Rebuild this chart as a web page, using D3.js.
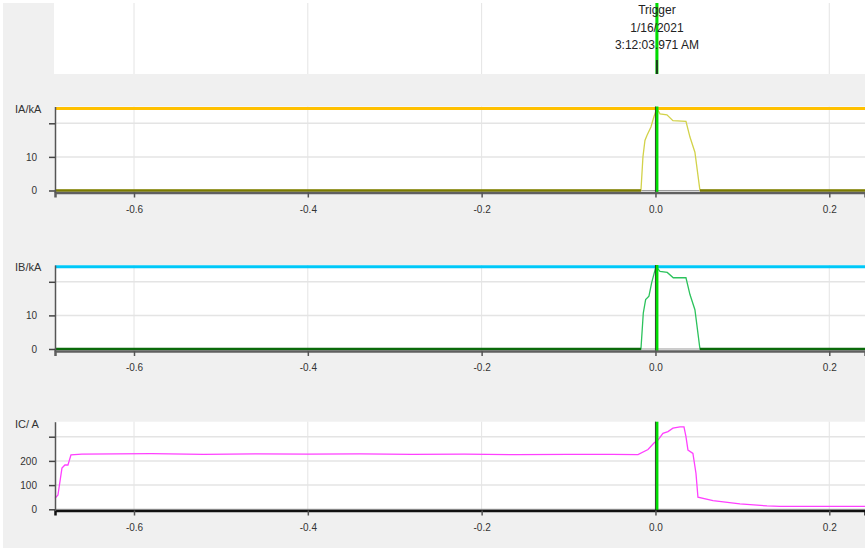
<!DOCTYPE html>
<html>
<head>
<meta charset="utf-8">
<script src="https://cdn.jsdelivr.net/npm/d3@7"></script>
<style>
    html, body { margin: 0; padding: 0; background: #fff; }
    svg { display: block; font-family: "Liberation Sans", Arial, sans-serif; }
</style>
</head>
<body>
<div id="chart"></div>
<script>
// ---- Data ----
const xTicks = [-0.6, -0.4, -0.2, 0.0, 0.2];
const triggerTime = 0.0017;
const triggerText = ["Trigger", "1/16/2021", "3:12:03.971 AM"];

// [time (s), value]
const iaCurve = [
    [-0.691, 0], [-0.0167, 0], [-0.0144, 10], [-0.0121, 14.9], [-0.0098, 16.4],
    [-0.0052, 18.9], [-0.0017, 22], [0.0017, 24.4], [0.0052, 22.8], [0.0132, 22.5],
    [0.0201, 20.8], [0.0351, 20.6], [0.0397, 15.9], [0.0454, 11.4], [0.0512, 0],
    [0.2411, 0]
];
const ibCurve = [
    [-0.691, 0], [-0.0167, 0], [-0.014, 10.7], [-0.0113, 14.7], [-0.0075, 15.7],
    [-0.0044, 19.7], [0.0006, 24.6], [0.0052, 23.1], [0.0136, 22.8], [0.0205, 21.2],
    [0.0351, 21.2], [0.0397, 16.2], [0.0454, 11.7], [0.0512, 0], [0.2411, 0]
];
const icCurve = [
    [-0.6909, 45], [-0.6875, 59], [-0.6829, 170], [-0.6795, 183], [-0.676, 183],
    [-0.6725, 225], [-0.66, 228], [-0.62, 229], [-0.58, 230], [-0.52, 227],
    [-0.46, 229], [-0.40, 228], [-0.34, 229], [-0.28, 227], [-0.22, 228],
    [-0.16, 226], [-0.10, 227], [-0.05, 227], [-0.0201, 226], [-0.0086, 247],
    [-0.0017, 274], [0.0029, 286], [0.0086, 314], [0.0144, 321], [0.0201, 335],
    [0.0282, 341], [0.0328, 341], [0.0351, 300], [0.0374, 245], [0.0431, 231],
    [0.0466, 149], [0.0489, 50], [0.0662, 36], [0.0972, 22], [0.1283, 14],
    [0.1433, 12], [0.2411, 12]
];
const iaThreshold = 24.4;
const ibThreshold = 24.5;

const panels = [
    { label: "IA/kA", curve: iaCurve, threshold: iaThreshold, thresholdColor: "#ffc000",
      lineColor: "#d2d24a", baseColor: "#7d7d00", yDomain: [-0.6, 25], yTicks: [0, 10, 20],
      top: 106.5, bottom: 192.5, axisColor: "#606060" },
    { label: "IB/kA", curve: ibCurve, threshold: ibThreshold, thresholdColor: "#00c8f8",
      lineColor: "#2cc25c", baseColor: "#0a6a0a", yDomain: [-0.6, 25], yTicks: [0, 10, 20],
      top: 265, bottom: 351, axisColor: "#606060" },
    { label: "IC/ A", curve: icCurve, threshold: null,
      lineColor: "#ff40ff", baseColor: null, yDomain: [-5, 362], yTicks: [0, 100, 200, 300],
      top: 421.7, bottom: 510.5, axisColor: "#111" }
];

// ---- Layout ----
const width = 865, height = 551;
const plotLeft = 55, plotRight = 865;

const svg = d3.select("#chart").append("svg")
    .attr("width", width)
    .attr("height", height);

svg.append("rect")
    .attr("x", 3).attr("y", 3)
    .attr("width", width - 3).attr("height", 545)
    .attr("fill", "#f0f0f0");

const x = d3.scaleLinear()
    .domain([-0.6909, 0.2411])
    .range([plotLeft, plotRight]);

// ---- Trigger header ----
svg.append("rect")
    .attr("x", 54).attr("y", 3)
    .attr("width", plotRight - 54).attr("height", 71)
    .attr("fill", "#fff");

svg.append("g")
    .selectAll("line")
    .data(xTicks)
    .join("line")
    .attr("x1", d => x(d)).attr("x2", d => x(d))
    .attr("y1", 3).attr("y2", 74)
    .attr("stroke", "#e4e4e4");

svg.append("line")
    .attr("x1", x(triggerTime)).attr("x2", x(triggerTime))
    .attr("y1", 3).attr("y2", 74)
    .attr("stroke", "#00dd00")
    .attr("stroke-width", 3);

svg.append("line")
    .attr("x1", x(triggerTime)).attr("x2", x(triggerTime))
    .attr("y1", 60).attr("y2", 74)
    .attr("stroke", "#1a3a1a")
    .attr("stroke-width", 2);

svg.append("g")
    .selectAll("text")
    .data(triggerText)
    .join("text")
    .attr("x", x(triggerTime))
    .attr("y", (d, i) => 14 + i * 17.5)
    .attr("text-anchor", "middle")
    .style("font-size", "12px")
    .style("fill", "#222")
    .text(d => d);

// ---- Panels ----
panels.forEach(p => {
    const y = d3.scaleLinear()
        .domain(p.yDomain)
        .range([p.bottom, p.top]);

    const g = svg.append("g");

    g.append("rect")
        .attr("x", plotLeft).attr("y", p.top)
        .attr("width", plotRight - plotLeft).attr("height", p.bottom - p.top)
        .attr("fill", "#fff");

    // grid
    g.append("g")
        .selectAll("line")
        .data(xTicks)
        .join("line")
        .attr("x1", d => x(d)).attr("x2", d => x(d))
        .attr("y1", p.top).attr("y2", p.bottom)
        .attr("stroke", "#e4e4e4");

    g.append("g")
        .selectAll("line")
        .data(p.yTicks.filter(d => d > 0))
        .join("line")
        .attr("x1", plotLeft).attr("x2", plotRight)
        .attr("y1", d => y(d)).attr("y2", d => y(d))
        .attr("stroke", "#e4e4e4")
        .attr("stroke-width", 1.5);

    // zero reference
    g.append("line")
        .attr("x1", plotLeft).attr("x2", plotRight)
        .attr("y1", y(0)).attr("y2", y(0))
        .attr("stroke", "#9a9a9a");

    if (p.threshold !== null) {
        g.append("line")
            .attr("x1", plotLeft).attr("x2", plotRight)
            .attr("y1", y(p.threshold)).attr("y2", y(p.threshold))
            .attr("stroke", p.thresholdColor)
            .attr("stroke-width", 3);
    }

    const line = d3.line()
        .x(d => x(d[0]))
        .y(d => y(d[1]));

    g.append("path")
        .datum(p.curve)
        .attr("d", line)
        .attr("fill", "none")
        .attr("stroke", p.lineColor)
        .attr("stroke-width", 1.3);

    if (p.baseColor) {
        g.append("path")
            .datum(p.curve)
            .attr("d", line.defined(d => d[1] === 0))
            .attr("fill", "none")
            .attr("stroke", p.baseColor)
            .attr("stroke-width", 2.5);
    }

    // trigger marker
    g.append("line")
        .attr("x1", x(triggerTime)).attr("x2", x(triggerTime))
        .attr("y1", p.top).attr("y2", p.bottom)
        .attr("stroke", "#00dd00")
        .attr("stroke-width", 3);

    g.append("line")
        .attr("x1", x(triggerTime) - 1.5).attr("x2", x(triggerTime) - 1.5)
        .attr("y1", p.top).attr("y2", p.bottom)
        .attr("stroke", "#222")
        .attr("stroke-width", 0.8);

    // axes
    const xAxis = g.append("g")
        .attr("transform", `translate(0, ${p.bottom})`)
        .call(d3.axisBottom(x)
            .tickValues(xTicks)
            .tickFormat(d => d.toFixed(1))
            .tickSize(5)
            .tickPadding(8));

    xAxis.select(".domain")
        .attr("stroke", p.axisColor)
        .attr("stroke-width", 2.5);
    xAxis.selectAll(".tick line").attr("stroke", "#555").attr("stroke-width", 1.5);
    xAxis.selectAll(".tick text")
        .style("font-size", "10px")
        .style("font-family", "'Liberation Sans', Arial, sans-serif")
        .style("fill", "#333");

    const topTick = d3.max(p.yTicks);
    const yAxis = g.append("g")
        .attr("transform", `translate(${plotLeft}, 0)`)
        .call(d3.axisLeft(y)
            .tickValues(p.yTicks)
            .tickFormat(d => d === topTick ? "" : d)
            .tickSize(6)
            .tickPadding(12)
            .tickSizeOuter(0));

    yAxis.select(".domain").attr("stroke", "#555").attr("stroke-width", 1.5);
    yAxis.selectAll(".tick line").attr("stroke", "#444").attr("stroke-width", 1.5);
    yAxis.selectAll(".tick text")
        .style("font-size", "10px")
        .style("font-family", "'Liberation Sans', Arial, sans-serif")
        .style("fill", "#333");

    g.append("text")
        .attr("x", 15)
        .attr("y", p.top + 6)
        .style("font-size", "11px")
        .style("fill", "#333")
        .text(p.label);
});
</script>
</body>
</html>
